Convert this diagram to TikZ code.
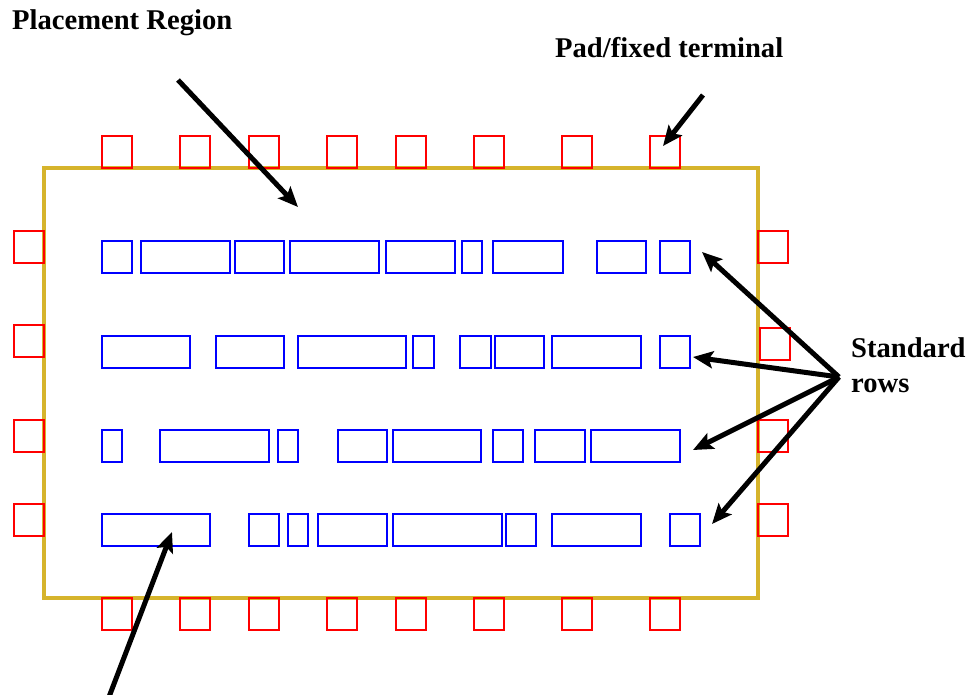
\documentclass[tikz,border=0pt]{standalone}
\usepackage{fontspec}
\setmainfont{Liberation Serif}
\usetikzlibrary{arrows.meta}
\definecolor{frame}{RGB}{214,180,44}
\begin{document}
\begin{tikzpicture}[x=1pt,y=-1pt,
  pad/.style={draw=red,line width=1.3pt,minimum width=30pt,minimum height=32pt,inner sep=0pt,outer sep=0pt},
  cell/.style={draw=blue,line width=1.3pt,minimum height=32pt,inner sep=0pt,outer sep=0pt},
  lbl/.style={font=\fontsize{28.6}{35}\selectfont\bfseries,inner sep=0pt,anchor=base west,align=left},
  pointer/.style={line width=5pt,-{Stealth[length=20pt,width=17pt,inset=4pt]}}]
\useasboundingbox (0,0) rectangle (980,694);
\clip (0,0) rectangle (980,694);
% placement region
\draw[frame,line width=4.5pt] (44,168) rectangle (758,598);
% top and bottom pads
\foreach \x [count=\i] in {117,195,264,342,411,489,577,665}{
  \node[pad] (t\i) at (\x,152) {};
  \node[pad] (b\i) at (\x,614) {};
}
% left pads
\foreach \y [count=\i] in {247,341,436,520}{
  \node[pad] (l\i) at (29,\y) {};
}
% right pads
\node[pad] (r1) at (773,247) {};
\node[pad] (r2) at (775,344) {};
\node[pad] (r3) at (773,436) {};
\node[pad] (r4) at (773,520) {};
% standard cells
\foreach \a/\b [count=\i] in {102/132,141/230,235/284,290/379,386/455,462/482,493/563,597/646,660/690}{
  \pgfmathsetmacro\w{\b-\a}\pgfmathsetmacro\c{(\a+\b)/2}
  \node[cell,minimum width=\w pt] (ra\i) at (\c,257) {};
}
\foreach \a/\b [count=\i] in {102/190,216/284,298/406,413/434,460/491,495/544,552/641,660/690}{
  \pgfmathsetmacro\w{\b-\a}\pgfmathsetmacro\c{(\a+\b)/2}
  \node[cell,minimum width=\w pt] (rb\i) at (\c,352) {};
}
\foreach \a/\b [count=\i] in {102/122,160/269,278/298,338/387,393/481,493/523,535/585,591/680}{
  \pgfmathsetmacro\w{\b-\a}\pgfmathsetmacro\c{(\a+\b)/2}
  \node[cell,minimum width=\w pt] (rc\i) at (\c,446) {};
}
\foreach \a/\b [count=\i] in {102/210,249/279,288/308,318/387,393/502,506/536,552/641,670/700}{
  \pgfmathsetmacro\w{\b-\a}\pgfmathsetmacro\c{(\a+\b)/2}
  \node[cell,minimum width=\w pt] (rd\i) at (\c,530) {};
}
% labels
\node[lbl] (plabel) at (12,29) {Placement Region};
\node[lbl] (padlabel) at (555,57) {Pad/fixed terminal};
\node[lbl] (srlabel) at (851,392) {Standard\\rows};
% arrows
\coordinate (pstart) at (178,80);
\coordinate (pend) at (298,207);
\coordinate (padstart) at (703,95);
\coordinate (padend) at (663,146);
\coordinate (hub) at (839,377);
\coordinate (s1) at (702,252);
\coordinate (s2) at (693,357);
\coordinate (s3) at (693,450);
\coordinate (s4) at (712,524);
\coordinate (cstart) at (104,710);
\coordinate (cend) at (172,532);
\draw[pointer] (pstart) -- (pend);
\draw[pointer] (padstart) -- (padend);
\foreach \s in {s1,s2,s3,s4}{\draw[pointer] (hub) -- (\s);}
\draw[pointer] (cstart) -- (cend);
\end{tikzpicture}
\end{document}
